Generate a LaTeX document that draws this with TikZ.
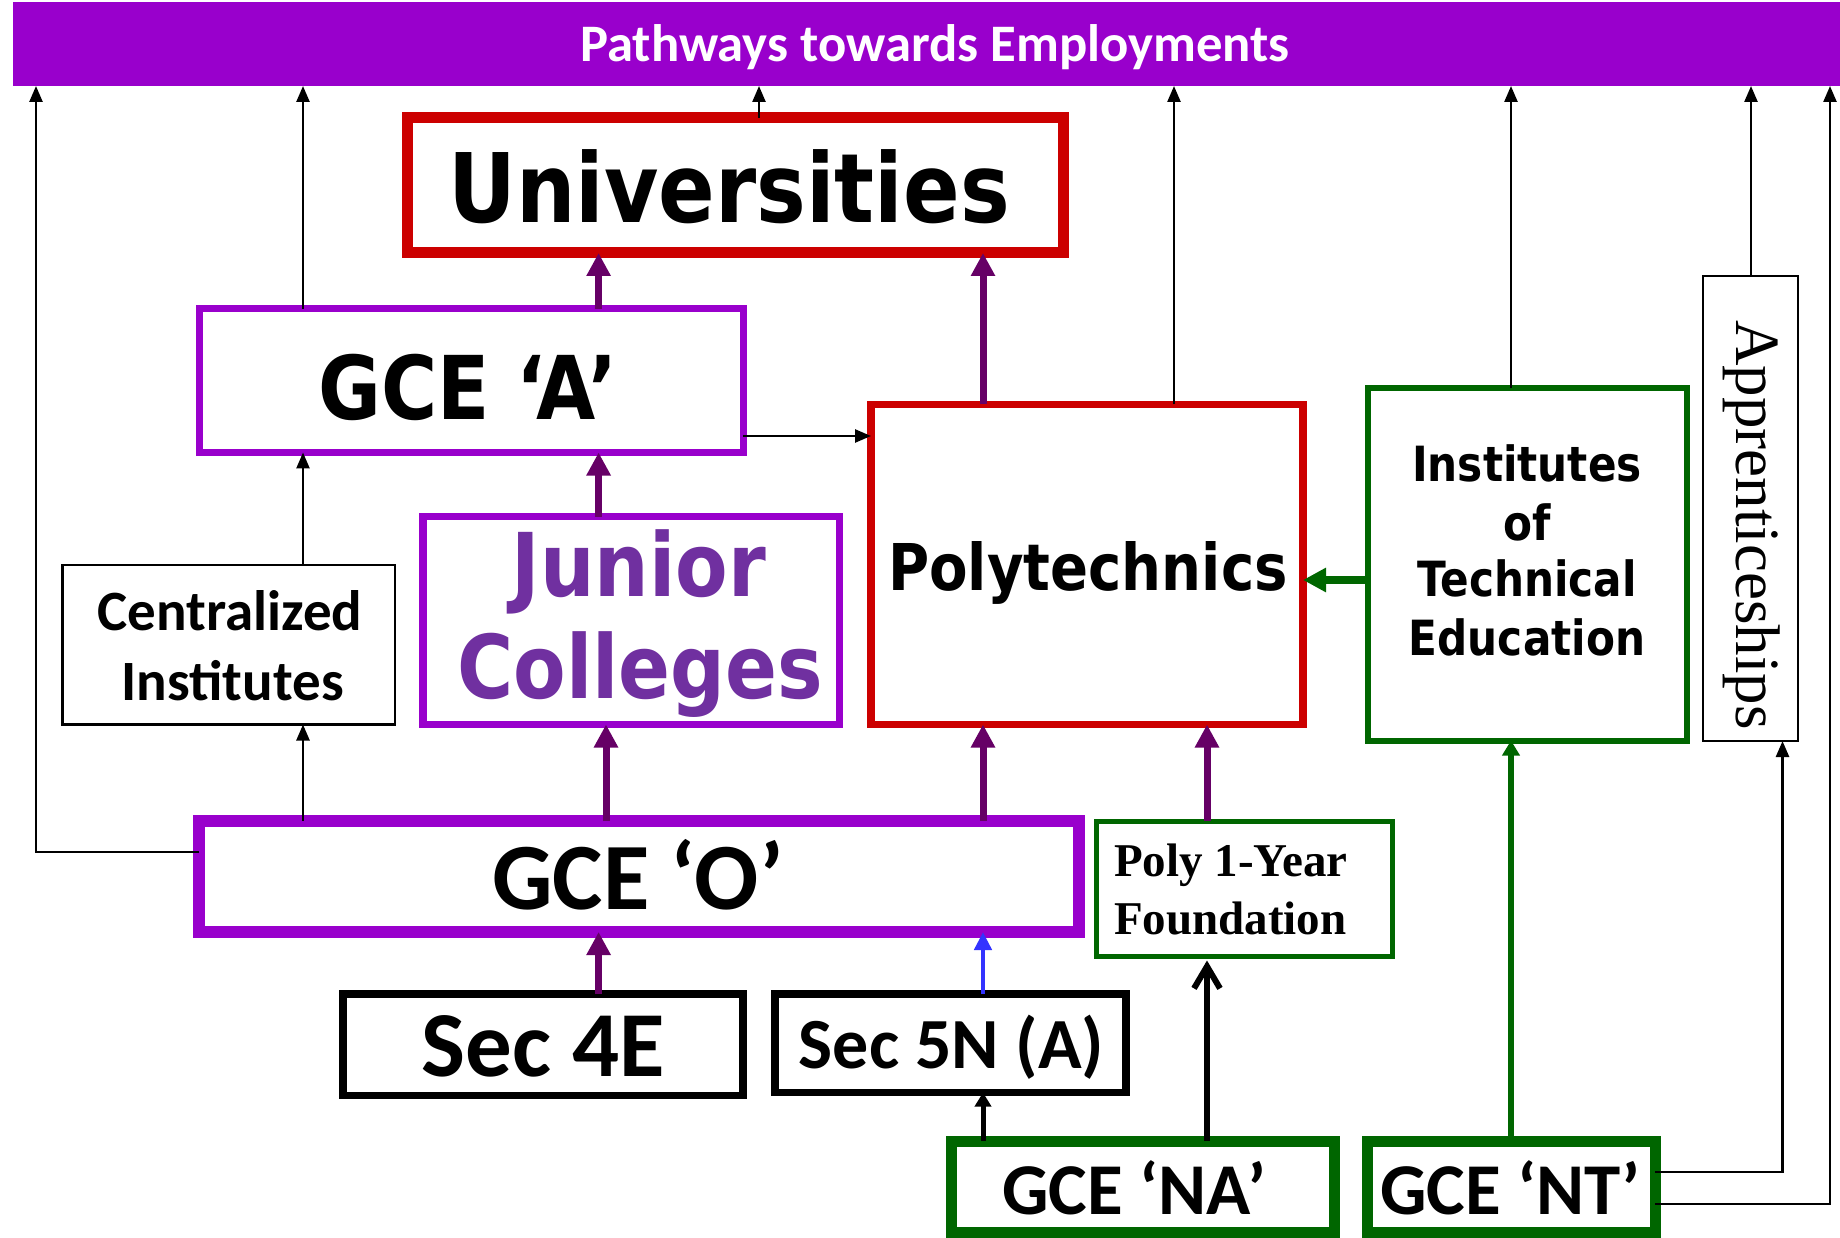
\documentclass[tikz,border=0pt]{standalone}
\usepackage{fontspec}
\usetikzlibrary{arrows.meta,calc}
\newfontfamily\calfont{Carlito}
\newfontfamily\tahfont[FakeStretch=0.87]{DejaVu Sans}
\newfontfamily\timfont{Liberation Serif}
\definecolor{bpurple}{HTML}{9900CC}
\definecolor{dpurple}{HTML}{660066}
\definecolor{jcpurple}{HTML}{7030A0}
\definecolor{bred}{HTML}{CC0000}
\definecolor{bgreen}{HTML}{006600}
\definecolor{bblue}{HTML}{3333FF}
\begin{document}
\begin{tikzpicture}[x=1pt,y=-1pt,
  box/.style={draw, rectangle, inner sep=0pt, outer sep=0pt},
  txt/.style={inner sep=0pt, outer sep=0pt, anchor=base},
  thinarr/.style={line width=2.5pt, -{Triangle[length=16pt,width=13pt]}},
  purarr/.style={draw=dpurple, line width=7pt, -{Triangle[length=23pt,width=23pt]}},
  bluearr/.style={draw=bblue, line width=4.7pt, -{Triangle[length=18pt,width=17pt]}},
  blkarr/.style={line width=5pt, -{Triangle[length=14pt,width=16pt]}},
  barbarr/.style={line width=6pt, -{Straight Barb[length=22pt,width=26pt]}},
  grnarr/.style={draw=bgreen, line width=8pt, -{Triangle[length=23pt,width=23pt]}},
  grnarrb/.style={draw=bgreen, line width=5.5pt, -{Triangle[length=15pt,width=17pt]}},
  cal/.style={font=\calfont\bfseries\fontsize{#1}{#1}\selectfont},
  tah/.style={font=\tahfont\bfseries\fontsize{#1}{#1}\selectfont},
]
\useasboundingbox (0,0) rectangle (1840,1238);
\fill[white] (0,0) rectangle (1840,1238);

% banner
\node[rectangle, fill=bpurple, inner sep=0pt, outer sep=0pt, minimum width=1827pt, minimum height=84pt] (banner) at (926.5,44) {};
\node[txt, cal=52.7, text=white] (tbanner) at (935,62) {Pathways towards Employments};

% boxes
\node[box, draw=bred, line width=11pt, minimum width=656pt, minimum height=135pt] (univ) at (735,185.5) {};
\node[box, draw=bpurple, line width=7pt, minimum width=544pt, minimum height=143.8pt] (gcea) at (471,380.6) {};
\node[box, draw=bpurple, line width=7.5pt, minimum width=416.5pt, minimum height=207.8pt] (jc) at (631.25,620.6) {};
\node[box, draw=black, line width=2.5pt, minimum width=332.5pt, minimum height=159.5pt] (central) at (228.75,644.75) {};
\node[box, draw=bred, line width=7.5pt, minimum width=432pt, minimum height=320pt] (poly) at (1087,564.5) {};
\node[box, draw=bgreen, line width=6pt, minimum width=319pt, minimum height=352pt] (ite) at (1527.5,564.5) {};
\node[box, draw=black, line width=2pt, minimum width=95pt, minimum height=465pt] (appr) at (1750.5,508.5) {};
\node[box, draw=bpurple, line width=11.5pt, minimum width=880pt, minimum height=111pt] (gceo) at (639,876.5) {};
\node[box, draw=black, line width=7.5pt, minimum width=400pt, minimum height=101.5pt] (sec4e) at (543,1044.75) {};
\node[box, draw=black, line width=7.5pt, minimum width=351pt, minimum height=98.5pt] (sec5n) at (950.5,1043.25) {};
\node[box, draw=bgreen, line width=5pt, minimum width=296pt, minimum height=135.5pt] (polyf) at (1244,888.75) {};
\node[box, draw=bgreen, line width=11pt, minimum width=383pt, minimum height=91.5pt] (na) at (1142.5,1186.75) {};
\node[box, draw=bgreen, line width=11pt, minimum width=288pt, minimum height=91.5pt] (nt) at (1511,1186.75) {};

% texts
\node[txt, tah=96] (tuniv) at (729,223) {Universities};
\node[txt, tah=88] (tgcea) at (468,420) {GCE ‘A’};
\node[txt, tah=88, text=jcpurple] (tjc1) at (639,596) {Junior};
\node[txt, tah=88, text=jcpurple] (tjc2) at (640,698) {Colleges};
\node[txt, cal=57] (tcen1) at (230,630) {Centralized};
\node[txt, cal=57] (tcen2) at (232.7,700.7) {Institutes};
\node[txt, tah=64.5] (tpoly) at (1088,590) {Polytechnics};
\node[txt, tah=48.5] (tite1) at (1527,481.7) {Institutes};
\node[txt, tah=48.5] (tite2) at (1527,540) {of};
\node[txt, tah=48.5] (tite3) at (1527,596.7) {Technical};
\node[txt, tah=48.5] (tite4) at (1527,655) {Education};
\node[inner sep=0pt, rotate=-90, font=\timfont\fontsize{63}{63}\selectfont] (tappr) at (1752,525) {Apprenticeships};
\node[txt, cal=95] (tgceo) at (638,909) {GCE ‘O’};
\node[txt, cal=93] (tsec4) at (543,1076.7) {Sec 4E};
\node[txt, cal=72] (tsec5) at (951.5,1068) {Sec 5N (A)};
\node[txt, anchor=base west, font=\timfont\bfseries\fontsize{47}{47}\selectfont] (tpf1) at (1114,876.7) {Poly 1-Year};
\node[txt, anchor=base west, font=\timfont\bfseries\fontsize{47}{47}\selectfont] (tpf2) at (1114,934) {Foundation};
\node[txt, cal=73] (tna) at (1134,1214) {GCE ‘NA’};
\node[txt, cal=73] (tnt) at (1510.5,1214) {GCE ‘NT’};

% coordinates for connector columns
\coordinate (xa) at (36,852);
\coordinate (xb) at (303,0);
\coordinate (xp) at (598.6,0);
\coordinate (xq) at (606,0);
\coordinate (xc) at (759,0);
\coordinate (xd) at (983,0);
\coordinate (xe) at (1174,0);
\coordinate (xf) at (1207,0);
\coordinate (xg) at (1511,0);
\coordinate (xh) at (1751,0);
\coordinate (xr) at (1782.5,0);
\coordinate (xs) at (1830,0);
\coordinate (ya) at (0,436);
\coordinate (yb) at (0,580);
\coordinate (yc) at (0,1172);
\coordinate (yd) at (0,1204);

% thin black connectors
\draw[thinarr] (gceo.west |- xa) -- (xa) -- (xa |- banner.south);
\draw[thinarr] (gceo.north -| xb) -- (central.south -| xb);
\draw[thinarr] (central.north -| xb) -- (gcea.south -| xb);
\draw[thinarr] (gcea.north -| xb) -- (banner.south -| xb);
\draw[thinarr] (univ.north -| xc) -- (banner.south -| xc);
\draw[thinarr] (poly.north -| xe) -- (banner.south -| xe);
\draw[thinarr] (ite.north -| xg) -- (banner.south -| xg);
\draw[thinarr] (appr.north -| xh) -- (banner.south -| xh);
\draw[thinarr] (gcea.east |- ya) -- (poly.west |- ya);
\draw[thinarr] (nt.east |- yc) -| (appr.south -| xr);
\draw[thinarr] (nt.east |- yd) -| (banner.south -| xs);

% purple connectors
\draw[purarr] (sec4e.north -| xp) -- (gceo.south -| xp);
\draw[purarr] (jc.north -| xp) -- (gcea.south -| xp);
\draw[purarr] (gcea.north -| xp) -- (univ.south -| xp);
\draw[purarr] (gceo.north -| xq) -- (jc.south -| xq);
\draw[purarr] (gceo.north -| xd) -- (poly.south -| xd);
\draw[purarr] (polyf.north -| xf) -- (poly.south -| xf);
\draw[purarr] (poly.north -| xd) -- (univ.south -| xd);

% blue and black
\draw[bluearr] (sec5n.north -| xd) -- (gceo.south -| xd);
\draw[blkarr] (na.north -| xd) -- (sec5n.south -| xd);
\draw[barbarr, shorten >=4pt] (na.north -| xf) -- (polyf.south -| xf);

% green
\draw[grnarr] (ite.west |- yb) -- (poly.east |- yb);
\draw[grnarrb] (nt.north -| xg) -- (ite.south -| xg);
\end{tikzpicture}
\end{document}
